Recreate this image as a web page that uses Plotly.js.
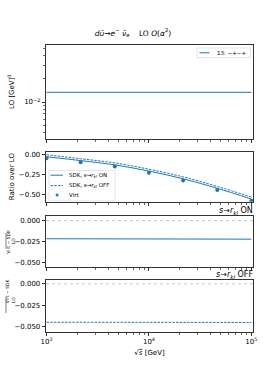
<!DOCTYPE html>
<html><head><meta charset="utf-8">
<script src="https://cdn.plot.ly/plotly-3.0.1.min.js"></script>
<style>html,body{margin:0;padding:0;background:#fff;}#plot{width:266px;height:372px;}</style>
</head><body><div id="plot"></div>
<script>
// ---- data ----
const sqrtS = [1000, 2154, 4642, 10000, 21544, 46416, 100000];
const loValues = [0.01337, 0.01337, 0.01337, 0.01337, 0.01337, 0.01337, 0.01337];
const virtRatio = [-0.049, -0.099, -0.152, -0.230, -0.325, -0.443, -0.575];
const sdkOnRatio = [-0.030, -0.078, -0.131, -0.208, -0.303, -0.421, -0.553];
const sdkOffRatio = [-0.006, -0.055, -0.107, -0.185, -0.280, -0.398, -0.530];
const diffOn = [-0.0217, -0.0218, -0.0219, -0.0220, -0.0221, -0.0221, -0.0222];
const diffOff = [-0.0452, -0.0452, -0.0453, -0.0453, -0.0453, -0.0454, -0.0454];
const xTickVals = [1000, 10000, 100000];
const xTickText = ['10<sup>3</sup>', '10<sup>4</sup>', '10<sup>5</sup>'];
const xMinorVals = [2000,3000,4000,5000,6000,7000,8000,9000,20000,30000,40000,50000,60000,70000,80000,90000];
const loTickVals = [0.01];
const loTickText = ['10<sup>−2</sup>'];
const loMinorVals = [0.004,0.005,0.006,0.007,0.008,0.009,0.02,0.03,0.04,0.05];
const ratioTicks = [0, -0.25, -0.5];
const ratioTickText = ['0.00', '−0.25', '−0.50'];
const diffTicks = [0, -0.025, -0.05];
const diffTickText = ['0.000', '−0.025', '−0.050'];
const legendLO = '13: −+−+';
const nameOn = 'SDK, <i>s</i>→<i>r<sub>kl</sub></i> ON';
const nameOff = 'SDK, <i>s</i>→<i>r<sub>kl</sub></i> OFF';
const nameVirt = 'Virt';

const W = 266, H = 372;
const blue = '#1f77b4';
const px = v => v / W, py = v => 1 - v / H;
const FONT = 'DejaVu Sans, sans-serif';
const DASH = '2.5px,1.2px';

const traces = [
  {x: sqrtS, y: loValues, type: 'scatter', mode: 'lines', name: legendLO,
   line: {color: blue, width: 1}, xaxis: 'x', yaxis: 'y'},
  {x: sqrtS, y: sdkOnRatio, type: 'scatter', mode: 'lines', name: nameOn,
   line: {color: blue, width: 1, shape: 'spline'}, xaxis: 'x2', yaxis: 'y2'},
  {x: sqrtS, y: sdkOffRatio, type: 'scatter', mode: 'lines', name: nameOff,
   line: {color: blue, width: 1, dash: DASH, shape: 'spline'}, xaxis: 'x2', yaxis: 'y2'},
  {x: sqrtS, y: virtRatio, type: 'scatter', mode: 'markers', name: nameVirt,
   marker: {color: blue, size: 4}, xaxis: 'x2', yaxis: 'y2'},
  {x: sqrtS, y: diffOn, type: 'scatter', mode: 'lines',
   line: {color: blue, width: 1}, xaxis: 'x3', yaxis: 'y3'},
  {x: sqrtS, y: diffOff, type: 'scatter', mode: 'lines',
   line: {color: blue, width: 1, dash: DASH}, xaxis: 'x4', yaxis: 'y4'},
];

const xDom = [px(46), px(253)];
const xRange = [2.995, 5.016];
function xax(showLabels, anchor) {
  return {type: 'log', domain: xDom, range: xRange, anchor: anchor,
    tickvals: xTickVals, ticktext: xTickText, showticklabels: showLabels,
    ticks: 'outside', ticklen: 3.5, tickwidth: 0.8, tickcolor: '#000',
    minor: {tickvals: xMinorVals, ticks: 'outside', ticklen: 2, tickwidth: 0.6, tickcolor: '#000'},
    showgrid: false, zeroline: false, showline: true, mirror: true, linecolor: '#000', linewidth: 0.8,
    tickfont: {family: FONT, size: 7, color: '#000'}, automargin: false};
}
function yax(dom, range, extra) {
  return Object.assign({domain: [py(dom[1]), py(dom[0])], range: range,
    ticks: 'outside', ticklen: 3.5, tickwidth: 0.8, tickcolor: '#000',
    showgrid: false, zeroline: false, showline: true, mirror: true, linecolor: '#000', linewidth: 0.8,
    tickfont: {family: FONT, size: 7, color: '#000'}, automargin: false}, extra);
}

const xb = xax(true, 'y4');
xb.title = {text: '√<span style="text-decoration:overline"><i>s</i></span> [GeV]', font: {family: FONT, size: 7, color: '#000'}, standoff: 4};

const lgFont = {family: FONT, size: 5.5, color: '#000'};
function P(xv, yv) { return {xref: 'paper', yref: 'paper', x0: px(xv[0]), x1: px(xv[1]), y0: py(yv[0]), y1: py(yv[1])}; }
const shapes = [
  {type: 'line', xref: 'x3 domain', yref: 'y3', x0: 0, x1: 1, y0: 0, y1: 0, line: {color: '#bbbbbb', width: 0.8, dash: 'dot'}},
  {type: 'line', xref: 'x4 domain', yref: 'y4', x0: 0, x1: 1, y0: 0, y1: 0, line: {color: '#bbbbbb', width: 0.8, dash: 'dot'}},
  // fraction bars
  Object.assign({type: 'line', line: {color: '#000', width: 0.5}}, P([6, 6], [233, 249])),
  Object.assign({type: 'line', line: {color: '#000', width: 0.5}}, P([6, 6], [297, 313])),
  // legend 1 box + sample
  Object.assign({type: 'rect', layer: 'above', fillcolor: 'rgba(255,255,255,0.85)', line: {color: '#d4d4d4', width: 0.6}}, P([197, 250.5], [57.5, 48])),
  Object.assign({type: 'line', layer: 'above', line: {color: blue, width: 1}}, P([199.5, 209.5], [52.8, 52.8])),
  // legend 2 box + samples
  Object.assign({type: 'rect', layer: 'above', fillcolor: 'rgba(255,255,255,0.85)', line: {color: '#d4d4d4', width: 0.6}}, P([49, 115], [200.8, 170.5])),
  Object.assign({type: 'line', layer: 'above', line: {color: blue, width: 1}}, P([50.5, 63], [175.2, 175.2])),
  Object.assign({type: 'line', layer: 'above', line: {color: blue, width: 1, dash: DASH}}, P([50.5, 63], [185.6, 185.6])),
  Object.assign({type: 'circle', layer: 'above', fillcolor: blue, line: {color: blue, width: 0}}, P([55.6, 58.6], [196.5, 193.5])),
];

const A = (text, x, y, o) => Object.assign({text: text, xref: 'paper', yref: 'paper', x: px(x), y: py(y), showarrow: false, font: {family: FONT, size: 8, color: '#000'}}, o || {});
const annotations = [
  A('<i>s</i>→<i>r<sub>kl</sub></i> ON', 254, 211, {xanchor: 'right', yanchor: 'middle', borderpad: 0}),
  A('<i>s</i>→<i>r<sub>kl</sub></i> OFF', 254, 274.5, {xanchor: 'right', yanchor: 'middle', borderpad: 0}),
  A('Virt − SDK', 3.3, 241, {textangle: -90, font: {family: FONT, size: 4.5, color: '#000'}}),
  A('LO', 8.7, 241, {textangle: -90, font: {family: FONT, size: 4.5, color: '#000'}}),
  A('Virt − SDK', 3.3, 305, {textangle: -90, font: {family: FONT, size: 4.5, color: '#000'}}),
  A('LO', 8.7, 305, {textangle: -90, font: {family: FONT, size: 4.5, color: '#000'}}),
  A(legendLO, 215, 52.8, {xanchor: 'left', yanchor: 'middle', font: lgFont}),
  A(nameOn, 66.5, 175.2, {xanchor: 'left', yanchor: 'middle', font: lgFont}),
  A(nameOff, 66.5, 185.6, {xanchor: 'left', yanchor: 'middle', font: lgFont}),
  A(nameVirt, 66.5, 195.2, {xanchor: 'left', yanchor: 'middle', font: lgFont}),
];

const layout = {
  width: W, height: H, margin: {l: 0, r: 0, t: 0, b: 0},
  paper_bgcolor: '#fff', plot_bgcolor: '#fff', showlegend: false,
  font: {family: FONT, color: '#000'},
  title: {text: '<i>d</i><i>ū</i>→<i>e</i><sup>−</sup> <i>ν̄<sub>e</sub></i>    LO <i>O</i>(<i>α</i><sup>2</sup>)',
    x: 133 / W, xanchor: 'center', y: py(33), yanchor: 'middle', font: {family: FONT, size: 7.5, color: '#000'}},
  xaxis: xax(false, 'y'),
  xaxis2: xax(false, 'y2'),
  xaxis3: xax(false, 'y3'),
  xaxis4: xb,
  yaxis: yax([44.5, 139], [-2.48, -1.253], {type: 'log', anchor: 'x',
    tickvals: loTickVals, ticktext: loTickText,
    minor: {tickvals: loMinorVals, ticks: 'outside', ticklen: 2, tickwidth: 0.6, tickcolor: '#000'},
    title: {text: 'LO [GeV]<sup>0</sup>', font: {family: FONT, size: 7}, standoff: 8}}),
  yaxis2: yax([151.7, 201.7], [-0.587, 0.032], {anchor: 'x2', tickvals: ratioTicks, ticktext: ratioTickText,
    title: {text: 'Ratio over LO', font: {family: FONT, size: 7}, standoff: 3}}),
  yaxis3: yax([216, 267], [-0.0555, 0.0055], {anchor: 'x3', tickvals: diffTicks, ticktext: diffTickText}),
  yaxis4: yax([279.5, 331.7], [-0.0563, 0.005], {anchor: 'x4', tickvals: diffTicks, ticktext: diffTickText}),
  shapes: shapes,
  annotations: annotations,
};

Plotly.newPlot('plot', traces, layout, {displayModeBar: false, staticPlot: true});
</script></body></html>
